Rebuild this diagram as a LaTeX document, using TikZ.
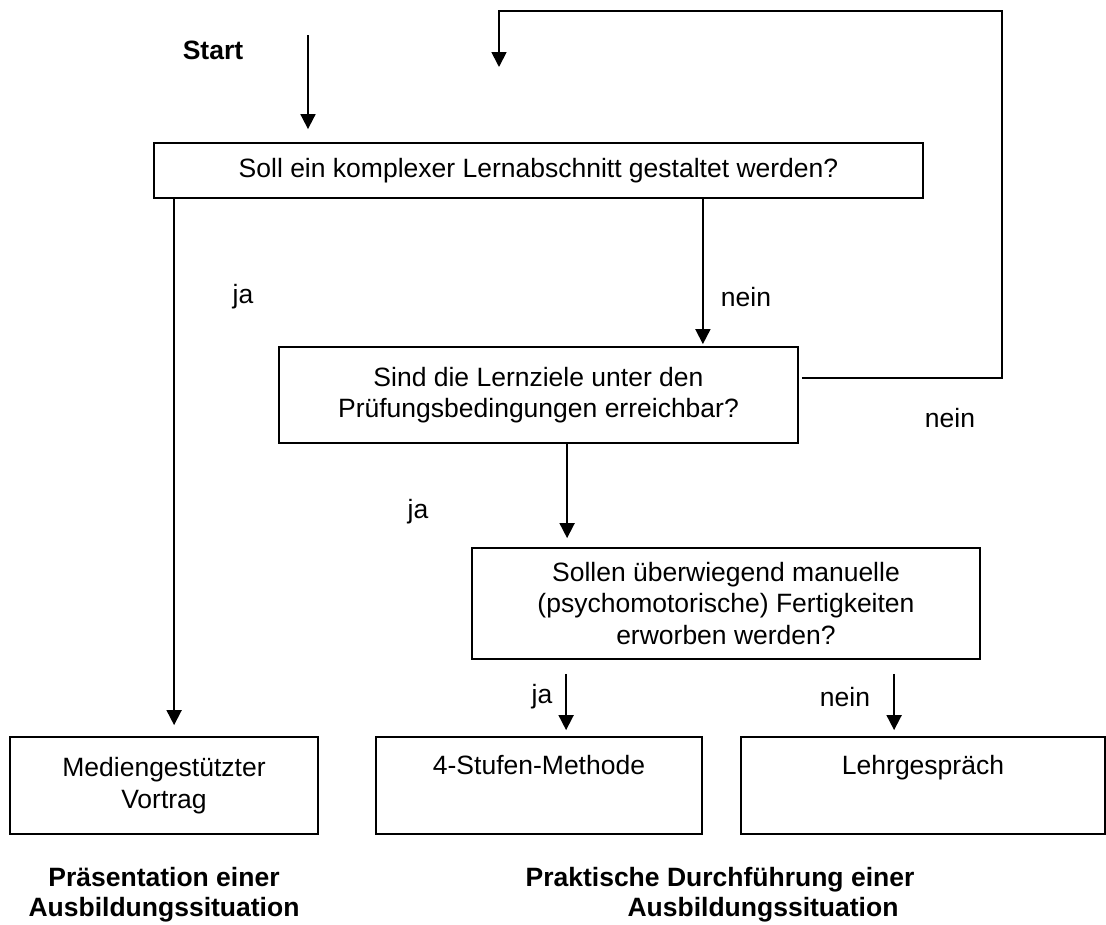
\documentclass[tikz,border=0pt]{standalone}
\usepackage{fontspec}
\setmainfont{Liberation Sans}
\usetikzlibrary{arrows.meta}
\begin{document}
\begin{tikzpicture}[x=1pt,y=-1pt,
  txt/.style={font=\fontsize{26.5}{31.5}\selectfont},
  bold/.style={font=\fontsize{26.5}{30}\selectfont\bfseries},
  box/.style={draw, line width=1.8pt, inner sep=0pt, txt},
  arr/.style={line width=1.8pt, -{Triangle[length=15pt,width=15pt]}},
  lbl/.style={txt, inner sep=0pt}]
\useasboundingbox (0,0) rectangle (1106,924);
\fill[white] (0,0) rectangle (1106,924);

\node[box, minimum width=769pt, minimum height=55pt] (q1) at (538.5,170.5) {Soll ein komplexer Lernabschnitt gestaltet werden?};
\node[box, align=center, minimum width=519pt, minimum height=96pt] (q2) at (538.5,395) {Sind die Lernziele unter den\\Prüfungsbedingungen erreichbar?};
\node[box, align=center, minimum width=508pt, minimum height=111pt] (q3) at (726,603.5) {Sollen überwiegend manuelle\\(psychomotorische) Fertigkeiten\\erworben werden?};
\node[box, align=center, minimum width=308pt, minimum height=97pt] (m1) at (164,785.5) {Mediengestützter\\Vortrag};
\node[box, minimum width=326pt, text height=37.5pt, text depth=59.5pt] (m2) at (539,785.5) {4-Stufen-Methode};
\node[box, minimum width=364pt, text height=37.5pt, text depth=59.5pt] (m3) at (923,785.5) {Lehrgespräch};

\node[bold, inner sep=0pt] (start) at (213,50) {Start};
\coordinate (s0) at (308,35);
\draw[arr, shorten >=13pt] (s0) -- (s0 |- q1.north);

\coordinate (lp1) at (1002,11);
\coordinate (lpend) at (499,67);
\draw[arr] ([xshift=3pt,yshift=17pt]q2.east) -| (lp1) -| (lpend);

\draw[arr, shorten >=11pt] ([xshift=21pt]q1.south west) -- ([xshift=21pt]q1.south west |- m1.north);
\draw[arr, shorten >=2pt] ([xshift=-96pt]q2.north east |- q1.south) -- ([xshift=-96pt]q2.north east);
\draw[arr, shorten >=9pt] ([xshift=96pt]q3.north west |- q2.south) -- ([xshift=96pt]q3.north west);
\draw[arr, shorten <=14pt, shorten >=6pt] ([xshift=95pt]q3.south west) -- ([xshift=95pt]q3.south west |- m2.north);
\draw[arr, shorten <=14pt, shorten >=6pt] ([xshift=423pt]q3.south west) -- ([xshift=423pt]q3.south west |- m3.north);

\node[lbl] (l1) at (243,297) {ja};
\node[lbl] (l2) at (746,297) {nein};
\node[lbl] (l3) at (950,418) {nein};
\node[lbl] (l4) at (418,512) {ja};
\node[lbl] (l5) at (542,697) {ja};
\node[lbl] (l6) at (845,697) {nein};

\node[bold, align=center, inner sep=0pt] (c1) at (164,895) {Präsentation einer\\Ausbildungssituation};
\node[bold, align=center, inner sep=0pt] (c2) at (720,895) {Praktische Durchführung einer\\\hspace*{86pt}Ausbildungssituation};
\end{tikzpicture}
\end{document}
